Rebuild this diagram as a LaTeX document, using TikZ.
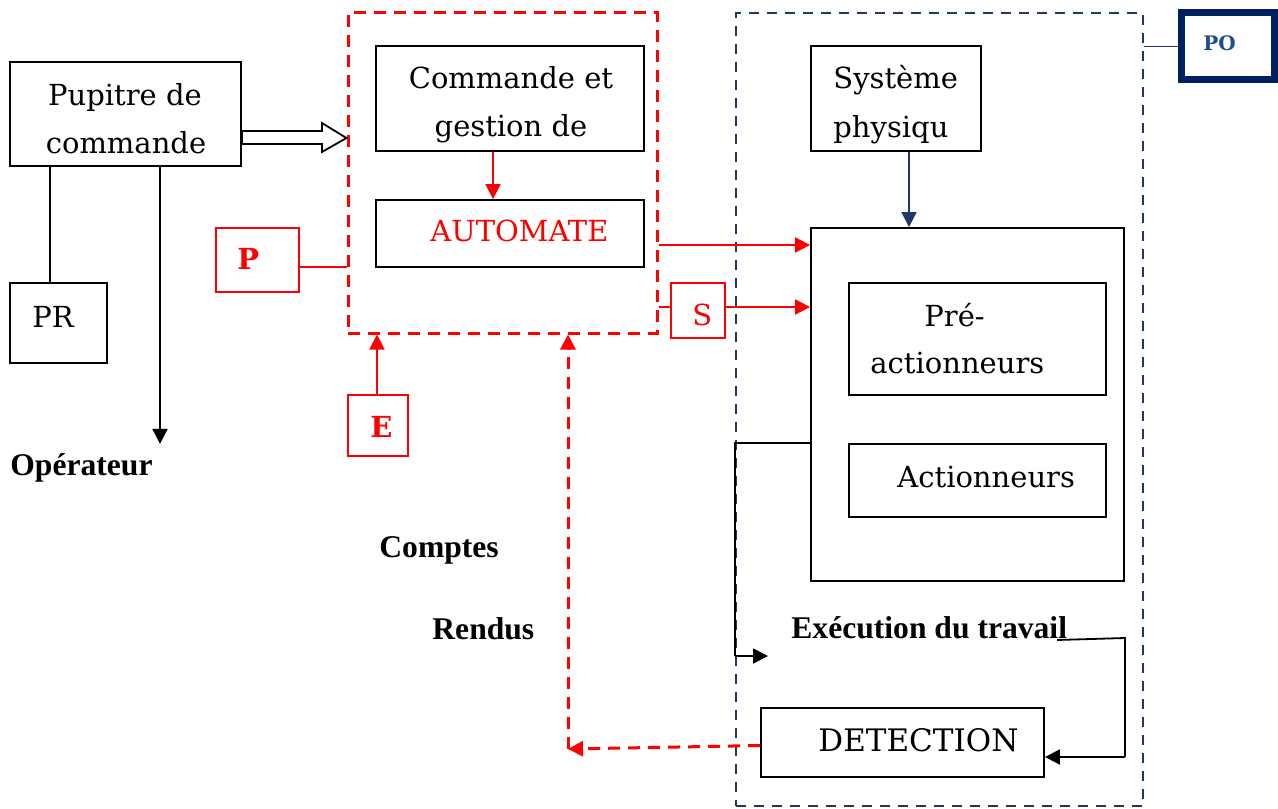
\documentclass[tikz,border=0pt]{standalone}
\usepackage{fontspec}
\newfontfamily\tnr{Liberation Serif}
\newfontfamily\schl{DejaVu Serif}
\usetikzlibrary{fit,calc,arrows.meta}
\definecolor{navy}{HTML}{1F3864}
\definecolor{pocol}{HTML}{002060}
\definecolor{potext}{HTML}{1F4E8C}

\begin{document}
\begin{tikzpicture}[x=0.5pt,y=-0.5pt,
  frame/.style={draw=black, line width=0.9pt, inner sep=0pt, fit={#1}},
  redframe/.style={draw=red, line width=0.9pt, inner sep=0pt, fit={#1}},
  txt/.style={font=\schl\fontsize{14.5}{18}\selectfont, anchor=base west, inner sep=0pt},
  rtxt/.style={txt, text=red},
  lbl/.style={font=\tnr\bfseries\fontsize{15.8}{19}\selectfont, anchor=base west, inner sep=0pt},
  tip/.style={-{Triangle[length=7.5pt,width=7.5pt]}},
  conn/.style={draw=black, line width=0.9pt},
  rconn/.style={draw=red, line width=0.9pt},
  rdash/.style={draw=red, line width=1.5pt, dash pattern=on 6pt off 4pt},
  bdash/.style={draw=navy, line width=1pt, dash pattern=on 5pt off 4pt}]
\useasboundingbox (0,0) rectangle (1278,808);

% ---- partie commande (dashed red) and partie operative (dashed navy) ----
\node[rdash, inner sep=0pt, fit={(348,13) (657,333)}] (ctrl) {};
\node[bdash, inner sep=0pt, fit={(736,13) (1143,806)}] (opart) {};

% ---- boxes ----
\node[frame={(10,62) (241,166)}] (pup) {};
\node[frame={(10,283) (107,363)}] (pr) {};
\node[frame={(376,46) (644,151)}] (cmd) {};
\node[frame={(376,200) (644,267)}] (auto) {};
\node[redframe={(216,228) (299,292)}] (p) {};
\node[redframe={(348,395) (408,456)}] (e) {};
\node[redframe={(671,283) (725,338)}] (s) {};
\node[frame={(811,46) (981,151)}] (sys) {};
\node[frame={(811,228) (1124,581)}] (act) {};
\node[frame={(849,283) (1106,395)}] (pre) {};
\node[frame={(849,444) (1106,517)}] (acn) {};
\node[frame={(761,708) (1044,777)}] (det) {};
\node[draw=pocol, line width=3.5pt, inner sep=0pt, fit={(1181,13) (1274,80)}] (po) {};

% ---- texts ----
\node[txt, anchor=base] (t1) at (125,105) {Pupitre de};
\node[txt, anchor=base] (t2) at (126,153) {commande};
\node[txt] (t3) at (32,327) {PR};
\node[lbl] (t4) at (10,475) {Opérateur};
\node[txt, anchor=base] (t5) at (511,89) {Commande et};
\node[txt, anchor=base] (t6) at (511,136) {gestion de};
\node[rtxt, font=\schl\fontsize{14.5}{18}\selectfont] (t7) at (430,241) {AUTOMATE};
\node[rtxt, font=\schl\bfseries\fontsize{14.5}{18}\selectfont] (t8) at (237,269) {P};
\node[rtxt, font=\schl\bfseries\fontsize{14.5}{18}\selectfont] (t9) at (370,437) {E};
\node[rtxt] (t10) at (692,325) {S};
\node[txt] (t11) at (833,89) {Système};
\node[txt] (t12) at (833,137) {physiqu};
\node[txt] (t13) at (924,326) {Pré-};
\node[txt] (t14) at (870,373) {actionneurs};
\node[txt] (t15) at (897,487) {Actionneurs};
\node[txt, font=\schl\fontsize{15.5}{18}\selectfont] (t16) at (818,751) {DETECTION};
\node[lbl] (t17) at (379,557) {Comptes};
\node[lbl] (t18) at (432,639) {Rendus};
\node[lbl] (t19) at (791,638) {Exécution du travail};
\node[txt, font=\schl\bfseries\fontsize{10}{12}\selectfont, text=potext] (t20) at (1203,51) {PO};

% ---- connectors ----
% hollow arrow from the desk into the control part
\draw[line width=0.9pt, fill=white]
  ($(pup.east)+(0,17)$) -- ++(80,0) -- ++(0,-8) -- (ctrl.west |- 0,138)
  -- ($(pup.east)+(80,38)$) -- ++(0,-8) -- ($(pup.east)+(0,30)$) -- cycle;
\draw[conn] ($(pup.south)+(-75.5,0)$) -- ($(pr.north)+(-8.5,0)$);
\draw[conn, tip] ($(pup.south)+(34.5,0)$) -- ($(pup.south)+(34.5,277)$);
\draw[rconn, tip] ($(cmd.south)+(-17,0)$) -- ($(auto.north)+(-17,0)$);
\coordinate (pl) at ($(p.east)+(0,7)$);
\draw[rconn] (pl) -- (pl -| ctrl.west);
\coordinate (eu) at ($(e.north)+(-1,0)$);
\draw[rconn, tip] (eu) -- (eu |- ctrl.south);
\draw[rconn, tip] (ctrl.east |- 0,245) -- (act.west |- 0,245);
\draw[rconn] (ctrl.east |- 0,307) -- (s.west |- 0,307);
\draw[rconn, tip] (s.east |- 0,307) -- (act.west |- 0,307);
\draw[draw=navy, line width=0.9pt, tip] ($(sys.south)+(13,0)$) -- ($(act.north)+(-58.5,0)$);
\draw[conn] (act.west |- acn.north) -- (opart.west |- acn.north) -- (opart.west |- 0,656) coordinate (ex);
\draw[conn, tip] (ex) -- ++(33,0);
\draw[conn] (1057,640) -- (act.east |- 0,638) -- (act.east |- 0,757) coordinate (dr);
\draw[conn, tip] (dr) -- (det.east |- dr);
\draw[navy, line width=0.9pt] (opart.east |- po.west) -- (po.west);
% feedback to the control part
\coordinate (fb) at (568,749);
\draw[rdash, tip] ($(det.west)+(0,3)$) -- (fb);
\draw[rdash, tip] (fb) -- (fb |- ctrl.south);
\end{tikzpicture}
\end{document}
